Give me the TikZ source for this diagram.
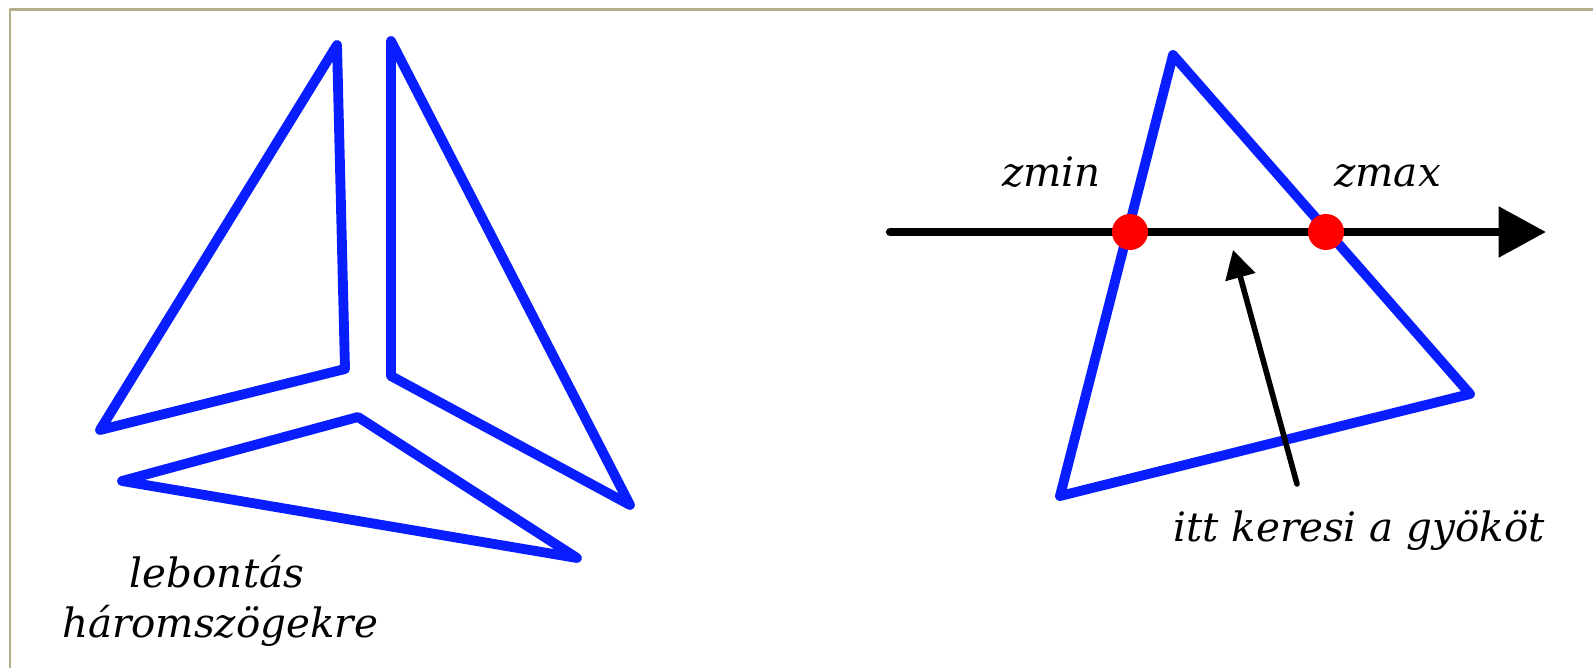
\documentclass[tikz,border=0pt]{standalone}
\usepackage{fontspec}
\setmainfont{DejaVu Serif}
\usetikzlibrary{arrows.meta,positioning}
\definecolor{meshblue}{RGB}{8,30,255}
\definecolor{framegray}{RGB}{178,174,140}
\tikzset{tri/.style={meshblue,line width=5.6pt,line join=round,line cap=round},
  lbl/.style={font=\itshape\fontsize{23}{28}\selectfont,inner sep=0pt,anchor=base west}}

\begin{document}
\begin{tikzpicture}[x=0.02cm,y=-0.02cm,>=Stealth,line join=round]
\useasboundingbox (0,0) rectangle (1593,668);
% --- frame (top and left edge only)
\draw[framegray,line width=1.2pt] (10,668) -- (10,9.5) -- (1593,9.5);
% --- left: the mesh split into triangles
\draw[tri] (337,45) -- (345,369) -- (100,430) -- cycle;
\draw[tri] (391,41) -- (391,376) -- (630,505) -- cycle;
\draw[tri] (358,417) -- (122,481) -- (577,558) -- cycle;
\node[lbl,anchor=base] (split1) at (217,588) {lebontás};
\node[lbl,anchor=base] (split2) at (220,638) {háromszögekre};
% --- right: one triangle and the ray through it
\draw[tri] (1173,55) -- (1470,394) -- (1060,496) -- cycle;
\coordinate (rayA) at (890,232);
\coordinate (rayB) at (1546,232);
\draw[line width=4.7pt,line cap=round,-{Triangle[length=27pt,width=28pt]}] (rayA) -- (rayB);
\fill[red] (1130,232) circle (18) (1326,232) circle (18);
\node[lbl] (zmin) at (1002,187) {zmin};
\node[lbl] (zmax) at (1334,187) {zmax};
\node[lbl] (root) at (1173,542) {itt keresi a gyököt};
\coordinate (rootA) at (1297,484);
\coordinate (rootB) at (1233,250);
\draw[line width=3.2pt,line cap=round,-{Triangle[length=16pt,width=17pt]}] (rootA) -- (rootB);
\end{tikzpicture}
\end{document}
